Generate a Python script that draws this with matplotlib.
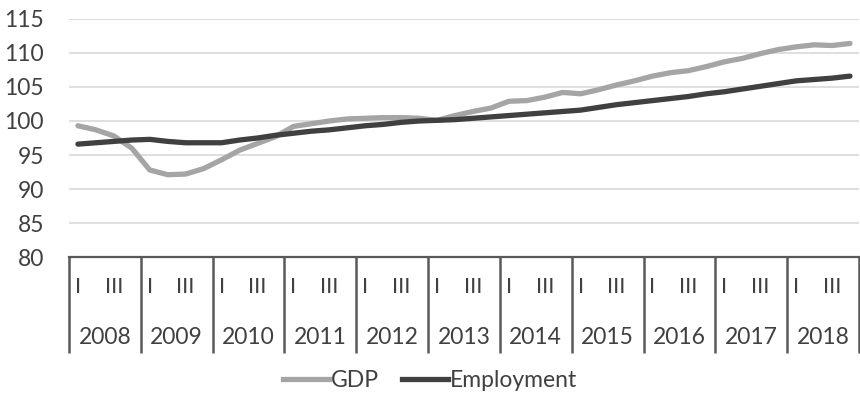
import numpy as np
import matplotlib
matplotlib.use("Agg")
from matplotlib import pyplot as plt
from matplotlib.lines import Line2D
import matplotlib.transforms as mtransforms

years = [str(y) for y in range(2008, 2019)]
quarter_labels = ["I", "", "III", ""]

# quarterly index values, 2008Q1 .. 2018Q4
gdp = [99.3, 98.7, 97.8, 96.0,
       92.8, 92.1, 92.2, 93.0,
       94.3, 95.7, 96.7, 97.7,
       99.2, 99.6, 100.0, 100.3,
       100.4, 100.5, 100.5, 100.4,
       100.1, 100.8, 101.4, 101.9,
       102.9, 103.0, 103.5, 104.2,
       104.0, 104.6, 105.3, 105.9,
       106.6, 107.1, 107.4, 108.0,
       108.7, 109.2, 109.9, 110.5,
       110.9, 111.2, 111.1, 111.4]
employment = [96.6, 96.8, 97.0, 97.2,
              97.3, 97.0, 96.8, 96.8,
              96.8, 97.2, 97.5, 97.9,
              98.2, 98.5, 98.7, 99.0,
              99.3, 99.5, 99.8, 100.0,
              100.1, 100.2, 100.4, 100.6,
              100.8, 101.0, 101.2, 101.4,
              101.6, 102.0, 102.4, 102.7,
              103.0, 103.3, 103.6, 104.0,
              104.3, 104.7, 105.1, 105.5,
              105.9, 106.1, 106.3, 106.6]

text_col = "#404040"
axis_col = "#595959"
plt.rcParams['font.family'] = ['Lato', 'DejaVu Sans']

fig = plt.figure(figsize=(8.6, 3.93), dpi=100)
ax = fig.add_axes([0.0802, 0.346, 0.9186, 0.6057])

x = np.arange(len(gdp))
ax.plot(x, gdp, color="#a5a5a5", lw=3.8, solid_capstyle="round", label="GDP", zorder=3)
ax.plot(x, employment, color="#404040", lw=3.8, solid_capstyle="round", label="Employment", zorder=4)

ax.set_xlim(-0.5, len(gdp) - 0.5)
ax.set_ylim(80, 115)
ax.set_yticks(np.arange(80, 116, 5))
ax.tick_params(axis="y", length=0, pad=18, labelsize=16.5, labelcolor=text_col)
ax.set_xticks([])
ax.grid(axis="y", color="#d9d9d9", lw=1.2)
ax.set_axisbelow(True)
for s in ["left", "right", "top"]:
    ax.spines[s].set_visible(False)
ax.spines["bottom"].set_color(axis_col)
ax.spines["bottom"].set_linewidth(1.6)

# two-level category axis: quarters above, years below
trans = mtransforms.blended_transform_factory(ax.transData, ax.transAxes)
for k in range(len(years) + 1):
    xb = -0.5 + 4 * k
    ax.plot([xb, xb], [0, -0.403], transform=trans, color=axis_col, lw=1.8,
            clip_on=False, solid_capstyle="butt")
for k, yr in enumerate(years):
    for q, ql in enumerate(quarter_labels):
        if ql:
            ax.text(4 * k + q, -0.126, ql, transform=trans, ha="center", va="center",
                    fontsize=16, color=text_col)
    ax.text(4 * k + 1.5, -0.336, yr, transform=trans, ha="center", va="center",
            fontsize=16.5, color=text_col)

handles = [Line2D([], [], color="#a5a5a5", lw=3.8),
           Line2D([], [], color="#404040", lw=3.8)]
fig.legend(handles, ["GDP", "Employment"], loc="center", bbox_to_anchor=(0.5, 0.032),
           ncol=2, frameon=False, fontsize=16.5, handlelength=2.0, handletextpad=0.1,
           columnspacing=1.0, labelcolor=text_col)

fig.savefig("out.png", dpi=100)
